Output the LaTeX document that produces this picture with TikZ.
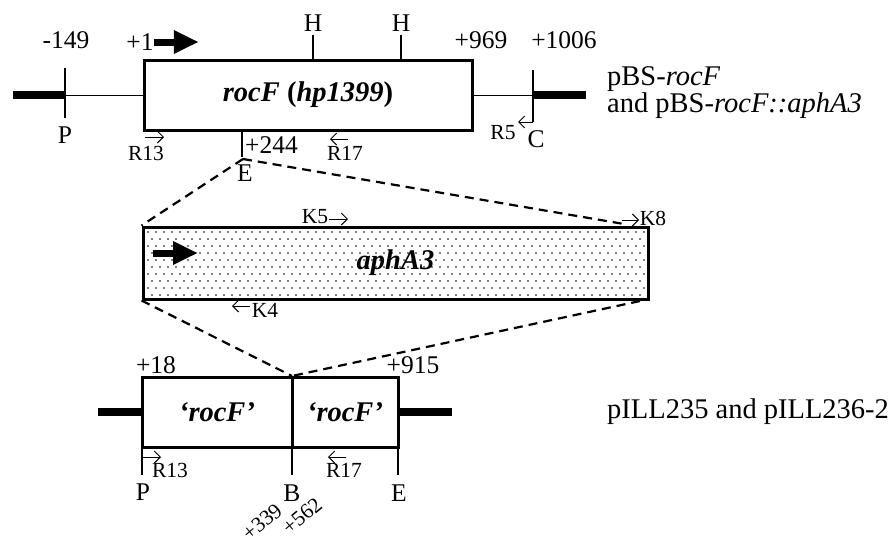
\documentclass[tikz,border=0pt]{standalone}
\usepackage{fontspec}
\setmainfont{Liberation Serif}
\usetikzlibrary{arrows.meta}

\begin{document}
\begin{tikzpicture}[x=1pt,y=-1pt,
    genebox/.style={draw,line width=3pt,inner sep=0pt,font=\fontsize{28.5}{30}\selectfont\bfseries\itshape},
    bar/.style={line width=8pt},
    dnaline/.style={line width=1pt},
    sitetick/.style={line width=1.2pt},
    cut/.style={line width=2.2pt,dash pattern=on 9pt off 6pt},
    primer/.style={line width=1pt,-{Straight Barb[length=6pt,width=12pt]}},
    promoter/.style={line width=7pt,-{Triangle[length=25pt,width=22pt]}},
    lbl/.style={inner sep=0pt,font=\fontsize{25.5}{27}\selectfont},
    plbl/.style={inner sep=0pt,font=\fontsize{21.5}{23}\selectfont},
    namelbl/.style={inner sep=0pt,font=\fontsize{28.5}{30}\selectfont}]
  \useasboundingbox (0,0) rectangle (896,542);

  % pBS-rocF
  \node[genebox,minimum width=328pt,minimum height=70pt] (rocf) at (308,95) {rocF \textup{(}hp1399\textup{)}};
  \coordinate (lend) at (13,95);
  \coordinate (psite) at (65,95);
  \coordinate (csite) at (533,95);
  \coordinate (rend) at (586,95);
  \draw[bar] (lend) -- (psite);
  \draw[dnaline] (psite) -- (rocf.west);
  \draw[dnaline] (rocf.east) -- (csite);
  \draw[bar] (csite) -- (rend);
  \draw[sitetick] (65,68) -- (65,118);
  \draw[sitetick] (533,70) -- (533,122);
  \draw[sitetick] (313,35) -- (313,60);
  \draw[sitetick] (401,35) -- (401,60);
  \draw[sitetick] (242,130) -- (242,157);
  \node[lbl] (m149) at (66,40) {-149};
  \node[lbl] (p1) at (140,42) {+1};
  \draw[promoter] (p1.east) -- ++(45,0);
  \node[lbl] (h1) at (313,23) {H};
  \node[lbl] (h2) at (401,23) {H};
  \node[lbl] (p969) at (481,40) {+969};
  \node[lbl] (p1006) at (564,40) {+1006};
  \node[lbl] (ptop) at (65,135) {P};
  \node[lbl] (ctop) at (536,139) {C};
  \node[lbl,anchor=west] (p244) at (245,145) {+244};
  \node[lbl] (etop) at (245,173) {E};
  \draw[primer] (145,137) -- (164,137);
  \node[plbl] (r13top) at (146,153) {R13};
  \draw[primer] (348,139) -- (330,139);
  \node[plbl] (r17top) at (345,153) {R17};
  \draw[primer] (533,122) -- (518,122);
  \node[plbl] (r5) at (503,133) {R5};
  \node[namelbl,anchor=base west] (pbs) at (607,85) {pBS-\textit{rocF}};
  \node[namelbl,anchor=base west] (pbsk) at (607,112) {and pBS-\textit{rocF::aphA3}};

  % aphA3 cassette
  \node[minimum width=505pt,minimum height=72pt,inner sep=0pt] (apha) at (395.5,263) {};
  \begin{scope}
    \clip (apha.south west) rectangle (apha.north east);
    \foreach \r in {0,...,9}
      \foreach \c in {0,...,62}
        \fill ({148+8*\c+4*mod(\r,2)},{232+7*\r}) circle (0.85pt);
  \end{scope}
  \node[genebox,minimum width=505pt,minimum height=72pt] (aphabox) at (apha) {aphA3};
  \draw[promoter] (153,253) -- (198,253);
  \draw[primer] (329,219) -- (348,219);
  \node[plbl] (k5) at (315,217) {K5};
  \draw[primer] (622,220) -- (639,220);
  \node[plbl] (k8) at (653,218) {K8};
  \draw[primer] (250,306) -- (232,306);
  \node[plbl] (k4) at (265,310) {K4};

  % pILL235 and pILL236-2
  \node[genebox,minimum width=150pt,minimum height=70pt] (rocfl) at (217,412) {`rocF'};
  \node[genebox,minimum width=106pt,minimum height=70pt] (rocfr) at (345,412) {`rocF'};
  \coordinate (bl) at (98,412);
  \coordinate (br) at (452,412);
  \draw[bar] (bl) -- (rocfl.west);
  \draw[bar] (rocfr.east) -- (br);
  \draw[sitetick] (142,447) -- (142,475);
  \draw[sitetick] (292,447) -- (292,475);
  \draw[sitetick] (398,447) -- (398,475);
  \node[lbl] (p18) at (156,365) {+18};
  \node[lbl] (p915) at (413,365) {+915};
  \draw[primer] (143,457) -- (161,457);
  \node[plbl] (r13bot) at (170,470) {R13};
  \draw[primer] (346,457) -- (328,457);
  \node[plbl] (r17bot) at (344,470) {R17};
  \node[lbl] (pbot) at (143,492) {P};
  \node[lbl] (bbot) at (292,493) {B};
  \node[lbl] (ebot) at (399,493) {E};
  \node[plbl,rotate=40] (p339) at (262,522) {+339};
  \node[plbl,rotate=40] (p562) at (302,516) {+562};
  \node[namelbl,anchor=west] (pill) at (607,412) {pILL235 and pILL236-2};

  % insertion
  \coordinate (ecut) at (243,159);
  \coordinate (k8cut) at (624,224);
  \coordinate (bcut) at (292,376);
  \coordinate (k8low) at (640,301);
  \draw[cut] (ecut) -- (aphabox.north west);
  \draw[cut] (ecut) -- (k8cut);
  \draw[cut] (aphabox.south west) -- (bcut);
  \draw[cut] (k8low) -- (bcut);
\end{tikzpicture}
\end{document}
